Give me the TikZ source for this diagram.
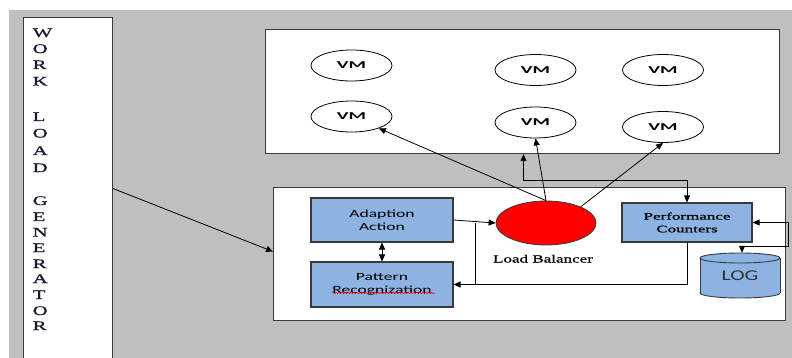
\documentclass[tikz,border=0pt]{standalone}
\usepackage{fontspec}
\setmainfont{Liberation Serif}
\newfontfamily\letterfont[FakeStretch=1.6,FakeBold=1]{Liberation Serif}
\newfontfamily\lbfont[FakeStretch=1.55,FakeBold=0.8]{Liberation Serif}
\newfontfamily\pcfont[FakeStretch=1.7,FakeBold=0.8]{Liberation Serif}
\newfontfamily\calfont[FakeStretch=1.6]{Carlito}
\newfontfamily\vmfont[FakeStretch=1.9]{Carlito}
\newfontfamily\logfont[FakeStretch=1.45]{Carlito}
\usetikzlibrary{arrows.meta,shapes.geometric,decorations.pathmorphing}
\definecolor{bggray}{HTML}{BFBFBF}
\definecolor{boxblue}{HTML}{8DB3E2}
\definecolor{edge}{HTML}{3A3A3A}
\definecolor{inkletter}{HTML}{1A1A2E}
\definecolor{logtext}{HTML}{333333}
\tikzset{
  panel/.style={draw=edge, line width=1.1pt, fill=white, inner sep=0pt, anchor=north west},
  vmnode/.style={ellipse, draw=black, line width=0.8pt, fill=white, minimum width=81, minimum height=31, inner sep=0pt, font=\vmfont\bfseries\fontsize{10.5}{12}\selectfont},
  bluebox/.style={rectangle, draw=edge, line width=1.1pt, fill=boxblue, inner sep=0pt, align=center},
  letter/.style={anchor=base west, inner sep=0pt, text=inkletter, font=\letterfont\fontsize{13}{16}\selectfont},
  arr/.style={line width=0.8pt, -{Triangle[length=7pt,width=6pt]}},
  dbl/.style={line width=0.8pt, {Triangle[length=7pt,width=6pt]}-{Triangle[length=7pt,width=6pt]}}
}
\begin{document}
\begin{tikzpicture}[x=1pt,y=-1pt]
\useasboundingbox (0,0) rectangle (792,358);
\fill[white] (0,0) rectangle (792,358);
\fill[bggray] (9,10) rectangle (792,358);

% work load generator
\node[panel, minimum width=89, minimum height=360] (wlg) at (23,17) {};
\foreach \c/\yy [count=\i] in {W/37,O/53,R/69,K/85.5,L/121,O/137.5,A/155,D/172,G/205,E/221,N/236.5,E/252,R/268,A/283,T/299,O/315,R/330}
  \node[letter] (w\i) at (32.5,\yy) {\c};

% frames
\node[panel, minimum width=514, minimum height=124] (vmbox) at (265,29) {};
\node[panel, minimum width=512, minimum height=133] (main) at (273,187) {};

% VMs
\node[vmnode] (vm1) at (351.5,65.5) {VM};
\node[vmnode] (vm2) at (351.5,116.5) {VM};
\node[vmnode] (vm3) at (535.5,70) {VM};
\node[vmnode] (vm4) at (663,70) {VM};
\node[vmnode] (vm5) at (535.5,122.5) {VM};
\node[vmnode] (vm6) at (663,127) {VM};

% inner blocks
\node[bluebox, minimum width=142, minimum height=44, font=\calfont\fontsize{11}{12.5}\selectfont] (aa) at (382,220) {Adaption\\Action};
\node[bluebox, minimum width=142, minimum height=45, font=\calfont\fontsize{11}{12.5}\selectfont] (pr) at (382,284.5) {Pattern\\Recognization};
\draw[red, line width=0.5pt, decorate, decoration={snake, amplitude=0.7pt, segment length=3pt}] ([xshift=-50pt,yshift=-8.5pt]pr.center) -- ([xshift=53pt,yshift=-8.5pt]pr.center);
\node[ellipse, draw=edge, line width=0.8pt, fill=red, minimum width=100, minimum height=44, inner sep=0pt] (lb) at (546,223) {};
\node[anchor=base, inner sep=0pt, font=\lbfont\fontsize{11}{13}\selectfont] (lbl) at (543,262.5) {Load Balancer};
\node[bluebox, minimum width=130, minimum height=39, font=\pcfont\fontsize{10}{12.7}\selectfont] (pc) at (687,222.5) {Performance\\Counters};

% LOG cylinder
\filldraw[fill=boxblue, draw=edge, line width=0.9pt] (740,293) ellipse [x radius=40, y radius=5];
\fill[boxblue] (700,258) rectangle (780,293);
\draw[edge, line width=0.9pt] (700,258) -- (700,293) (780,258) -- (780,293);
\filldraw[fill=boxblue, draw=edge, line width=0.9pt] (740,258) ellipse [x radius=40, y radius=5];
\node[minimum width=80, minimum height=46, inner sep=0pt, text=logtext, font=\logfont\fontsize{15}{17}\selectfont] (log) at (740,276) {LOG};

% connectors
\draw[arr] ([yshift=9pt]wlg.east) -- ([yshift=2.5pt]main.west);
\draw[arr] (aa.east) -- (lb.west);
\draw[arr] (pc.south) |- (pr.east);
\coordinate (j) at (475,250);
\draw[line width=0.8pt] (j |- pr.east) -- (j |- lb.west);
\draw[dbl] (aa.south) -- (pr.north);
\draw[arr] (lb.north) -- (vm2);
\draw[arr] (lb.north) -- (vm5.south);
\draw[arr] (lb.25) -- (vm6.south);
\coordinate (b) at (523.5,180);
\draw[dbl] (b |- vmbox.south) -- (b) -| (pc.north);
\coordinate (r) at (788,246);
\draw[dbl] (pc.east) -| (r) -| ([xshift=2pt]log.north);
\end{tikzpicture}
\end{document}
